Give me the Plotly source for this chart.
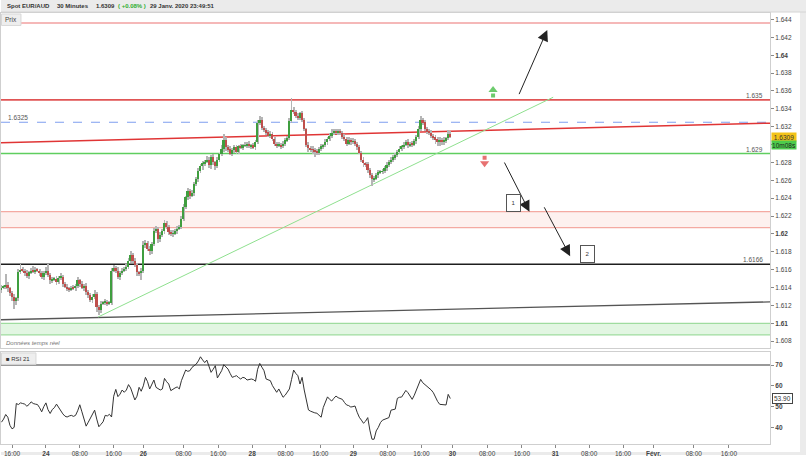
import plotly.graph_objects as go

# ---------------- data ----------------
# 30-minute EUR/AUD closes, first candle = 23 Jan 13:30, last = 29 Jan 23:30
closes = [
    1.6140, 1.6141, 1.6143, 1.6139, 1.6134, 1.6130, 1.6125, 1.6128, 1.6157, 1.6160,
    1.6159, 1.6156, 1.6153, 1.6157, 1.6159, 1.6158, 1.6160, 1.6159, 1.6156, 1.6152,
    1.6156, 1.6159, 1.6154, 1.6148, 1.6149, 1.6150, 1.6146, 1.6151, 1.6152, 1.6144,
    1.6141, 1.6139, 1.6138, 1.6140, 1.6139, 1.6142, 1.6148, 1.6144, 1.6140, 1.6142,
    1.6135, 1.6132, 1.6126, 1.6130, 1.6133, 1.6118, 1.6115, 1.6122, 1.6123, 1.6124,
    1.6122, 1.6123, 1.6159, 1.6162, 1.6159, 1.6152, 1.6156, 1.6159, 1.6161, 1.6163,
    1.6170, 1.6177, 1.6170, 1.6165, 1.6157, 1.6156, 1.6159, 1.6188, 1.6190, 1.6183,
    1.6181, 1.6189, 1.6203, 1.6206, 1.6194, 1.6199, 1.6203, 1.6212, 1.6208, 1.6202,
    1.6200, 1.6201, 1.6203, 1.6206, 1.6208, 1.6217, 1.6230, 1.6241, 1.6248, 1.6243,
    1.6246, 1.6256, 1.6261, 1.6270, 1.6276, 1.6279, 1.6281, 1.6283, 1.6277, 1.6286,
    1.6280, 1.6276, 1.6283, 1.6289, 1.6295, 1.6305, 1.6297, 1.6295, 1.6290, 1.6294,
    1.6297, 1.6292, 1.6298, 1.6297, 1.6299, 1.6299, 1.6301, 1.6298, 1.6299, 1.6297,
    1.6303, 1.6324, 1.6328, 1.6319, 1.6316, 1.6314, 1.6310, 1.6312, 1.6306, 1.6301,
    1.6299, 1.6300, 1.6298, 1.6301, 1.6305, 1.6307, 1.6326, 1.6339, 1.6337, 1.6332,
    1.6330, 1.6335, 1.6328, 1.6317, 1.6300, 1.6296, 1.6295, 1.6294, 1.6292, 1.6291,
    1.6295, 1.6298, 1.6299, 1.6303, 1.6306, 1.6310, 1.6313, 1.6315, 1.6314, 1.6315,
    1.6313, 1.6309, 1.6306, 1.6301, 1.6305, 1.6303, 1.6304, 1.6301, 1.6297, 1.6291,
    1.6283, 1.6279, 1.6278, 1.6272, 1.6266, 1.6261, 1.6262, 1.6266, 1.6269, 1.6270,
    1.6270, 1.6274, 1.6277, 1.6281, 1.6283, 1.6286, 1.6288, 1.6292, 1.6295, 1.6298,
    1.6300, 1.6303, 1.6299, 1.6301, 1.6300, 1.6304, 1.6308, 1.6317, 1.6327, 1.6325,
    1.6317, 1.6315, 1.6313, 1.6310, 1.6308, 1.6306, 1.6304, 1.6305, 1.6304, 1.6305,
    1.6307, 1.6312, 1.6309,
]
first_open = 1.6137
# wick lengths beyond the body, in pips (0.0001)
wick_up = [
    3, 2, 12, 3, 2, 2, 3, 2, 4, 6,   3, 2, 4, 2, 3, 5, 3, 2, 2, 3,
    2, 4, 7, 2, 3, 2, 3, 2, 4, 2,    2, 3, 2, 2, 3, 2, 4, 2, 3, 2,
    3, 2, 2, 3, 4, 2, 2, 3, 2, 3,    2, 2, 3, 3, 2, 4, 2, 3, 2, 3,
    3, 4, 2, 3, 2, 2, 3, 4, 3, 2,    3, 2, 4, 3, 2, 3, 2, 4, 3, 2,
    2, 3, 2, 3, 2, 3, 4, 2, 3, 2,    3, 2, 3, 4, 2, 3, 2, 4, 3, 2,
    3, 2, 3, 2, 4, 7, 3, 2, 3, 2,    2, 3, 2, 3, 2, 4, 2, 3, 2, 3,
    2, 3, 4, 3, 2, 3, 2, 3, 2, 3,    2, 3, 2, 3, 2, 3, 4, 13, 3, 2,
    3, 2, 3, 2, 2, 3, 2, 3, 2, 3,    2, 3, 2, 3, 2, 3, 4, 2, 3, 2,
    3, 2, 3, 2, 3, 2, 3, 2, 2, 3,    2, 3, 2, 3, 2, 2, 3, 2, 3, 2,
    3, 2, 3, 2, 3, 2, 3, 2, 3, 2,    3, 2, 3, 2, 3, 2, 3, 4, 5, 3,
    2, 3, 2, 3, 2, 3, 2, 3, 2, 3,    2, 4, 3,
]
wick_dn = [
    3, 2, 3, 4, 3, 5, 9, 4, 3, 2,    2, 3, 2, 3, 2, 2, 3, 2, 3, 2,
    3, 2, 2, 4, 3, 2, 3, 2, 2, 3,    2, 3, 3, 2, 2, 3, 2, 3, 2, 4,
    3, 4, 2, 3, 3, 5, 6, 3, 2, 3,    3, 2, 2, 2, 3, 2, 3, 2, 2, 3,
    2, 3, 3, 2, 4, 3, 7, 3, 4, 2,    5, 3, 3, 2, 4, 3, 2, 3, 2, 3,
    2, 3, 2, 3, 2, 2, 3, 2, 3, 4,    2, 3, 2, 3, 2, 4, 3, 2, 3, 4,
    3, 4, 2, 3, 2, 3, 4, 3, 2, 3,    3, 2, 3, 2, 3, 2, 3, 2, 3, 2,
    3, 2, 2, 3, 2, 3, 2, 3, 2, 3,    3, 2, 3, 2, 3, 2, 2, 2, 3, 2,
    3, 2, 3, 2, 3, 4, 3, 4, 6, 3,    3, 2, 3, 2, 3, 2, 3, 2, 2, 3,
    2, 3, 2, 3, 2, 3, 2, 3, 3, 2,    3, 4, 3, 4, 3, 7, 3, 2, 3, 2,
    3, 2, 3, 2, 3, 2, 3, 2, 3, 2,    3, 2, 3, 2, 3, 2, 3, 2, 2, 3,
    2, 3, 2, 3, 3, 5, 6, 6, 5, 4,    3, 2, 2,
]
rsi21 = [
    42.5, 44.0, 46.2, 44.9, 41.0, 39.3, 40.0, 51.5, 51.0, 51.8,
    51.5, 51.2, 50.2, 51.0, 52.3, 51.5, 51.2, 51.0, 49.5, 47.5,
    50.0, 51.8, 48.5, 46.7, 48.6, 49.5, 51.2, 49.5, 47.5, 46.5,
    45.4, 45.0, 45.5, 45.8, 45.3, 45.8, 48.0, 50.9, 47.5, 44.5,
    40.6, 42.5, 44.7, 46.5, 48.3, 44.0, 40.3, 41.5, 42.7, 45.8,
    45.5, 46.3, 45.0, 55.0, 58.3, 54.8, 56.0, 58.0, 56.9, 58.0,
    60.6, 59.0, 56.2, 53.2, 55.0, 59.3, 57.4, 60.0, 64.1, 62.0,
    58.5, 61.0, 62.8, 59.3, 58.5, 58.0, 58.5, 63.6, 62.0, 60.9,
    57.7, 58.5, 59.0, 59.5, 58.5, 62.5, 65.0, 67.6, 67.0, 67.3,
    68.9, 69.5, 70.5, 72.0, 74.0, 72.5, 71.2, 72.4, 69.0, 66.5,
    68.0, 69.7, 63.8, 65.5, 67.3, 70.2, 69.0, 68.1, 66.0, 64.1,
    64.5, 64.9, 64.0, 63.3, 64.1, 63.8, 62.8, 63.0, 63.3, 63.0,
    62.2, 68.0, 70.8, 69.0, 67.3, 63.3, 63.0, 62.5, 60.1, 58.5,
    56.9, 58.5, 56.5, 54.5, 55.5, 56.9, 58.5, 63.0, 67.6, 66.0,
    64.9, 60.9, 64.1, 58.0, 53.7, 48.4, 47.8, 47.3, 47.0, 46.8,
    46.0, 44.9, 49.6, 52.0, 54.7, 53.5, 52.7, 54.0, 55.1, 54.3,
    54.0, 53.5, 52.0, 50.8, 50.5, 49.8, 50.0, 50.3, 47.3, 44.9,
    43.5, 42.0, 43.0, 44.7, 38.7, 34.3, 34.3, 38.3, 40.0, 42.3,
    43.5, 43.9, 44.0, 44.7, 48.3, 48.5, 48.8, 54.0, 54.5, 54.6,
    56.0, 57.8, 56.7, 55.0, 53.5, 55.5, 57.8, 60.0, 63.1, 61.5,
    60.7, 60.0, 59.1, 58.0, 56.7, 54.3, 52.5, 51.1, 51.0, 51.1,
    50.8, 55.9, 53.9,
]
first_bar_hour = -10.5      # trading hours relative to 24 Jan 00:00
bar_step_hours = 0.5

# x tick labels (trading-hour position, text)
x_tick_hours = [-8, 0, 8, 16, 23, 32.5, 40.7, 48.7, 56.6, 64.8, 72.6, 80.7, 88.7,
                96, 104.2, 112.4, 120.3, 128.3, 136.3, 143.5, 153, 161.3]
x_tick_text = ["16:00", "<b>24</b>", "08:00", "16:00", "<b>26</b>", "08:00", "16:00",
               "<b>28</b>", "08:00", "16:00", "<b>29</b>", "08:00", "16:00", "<b>30</b>",
               "08:00", "16:00", "<b>31</b>", "08:00", "16:00", "<b>Févr.</b>", "08:00", "16:00"]
y_tick_vals = [1.608, 1.610, 1.612, 1.614, 1.616, 1.618, 1.620, 1.622, 1.624, 1.626,
               1.628, 1.630, 1.632, 1.634, 1.636, 1.638, 1.640, 1.642, 1.644]
# the 1.63 label is hidden behind the live price tags in the reference
y_tick_text = ["1.608", "<b>1.61</b>", "1.612", "1.614", "1.616", "1.618", "<b>1.62</b>",
               "1.622", "1.624", "1.626", "1.628", "", "1.632", "1.634", "1.636",
               "1.638", "<b>1.64</b>", "1.642", "1.644"]
rsi_tick_vals = [40, 50, 60, 70]

# drawn levels
level_top = 1.6436
level_res = 1.6350
level_dash = 1.6325
level_sup = 1.6290
level_black = 1.6166
red_zone = (1.6207, 1.6225)
green_zone = (1.6087, 1.6100)
red_trend = ((-10.61, 1.6302), (171.0, 1.6324))
gray_trend = ((-10.61, 1.6104), (171.0, 1.6124))
green_trend = ((12.3, 1.6107), (119.8, 1.6353))
# projection arrows: (tail hour, tail price, tip hour, tip price)
proj_arrows = [(111.6, 1.63548, 118.4, 1.64283),
               (108.1, 1.62816, 114.2, 1.62248),
               (117.5, 1.62315, 123.8, 1.61751)]
proj_boxes = [("1", 110.4, 1.62343), ("2", 127.9, 1.61780)]
last_price = 1.6309
timer_price = 1.6299
rsi_last = 53.90

# ---------------- geometry ----------------
W, H = 806, 457
ML, MR, MT, MB = 0, 36, 13, 11
PW, PH = W - ML - MR, H - MT - MB
X_RANGE = [-10.61, 171.0]


def pxx(x):
    return (x - ML) / PW


def pxy(y):
    return (H - MB - y) / PH


GREEN = "#3f9e3f"
RED = "#bf4f4c"
FONT = "Liberation Sans, Arial, sans-serif"

n = len(closes)
bar_x = [first_bar_hour + bar_step_hours * i for i in range(n)]
opens = [first_open] + closes[:-1]
highs = [max(o, c) + u * 1e-4 for o, c, u in zip(opens, closes, wick_up)]
lows = [min(o, c) - d * 1e-4 for o, c, d in zip(opens, closes, wick_dn)]
body_base = [min(o, c) for o, c in zip(opens, closes)]
body_h = [max(abs(c - o), 0.00004) for o, c in zip(opens, closes)]
body_col = [GREEN if c >= o else RED for o, c in zip(opens, closes)]

fig = go.Figure()
fig.add_trace(go.Bar(x=bar_x, y=[h - l for h, l in zip(highs, lows)], base=lows,
                     width=0.22, marker=dict(color="#b5b5b5", line=dict(width=0)),
                     xaxis="x", yaxis="y", showlegend=False, hoverinfo="skip"))
fig.add_trace(go.Bar(x=bar_x, y=body_h, base=body_base, width=0.4,
                     marker=dict(color=body_col, line=dict(width=0)),
                     xaxis="x", yaxis="y", showlegend=False, hoverinfo="skip"))
fig.add_trace(go.Scatter(x=bar_x, y=rsi21, mode="lines", line=dict(color="#333333", width=1),
                         xaxis="x2", yaxis="y2", showlegend=False, hoverinfo="skip"))
# small signal arrows (green up / red down)
fig.add_trace(go.Scatter(x=[105.6, 105.6], y=[1.63612, 1.63550], mode="markers",
                         marker=dict(symbol=["triangle-up", "square"], size=[8, 4], color="#2fb52f",
                                     line=dict(width=0)),
                         xaxis="x", yaxis="y", showlegend=False, hoverinfo="skip"))
fig.add_trace(go.Scatter(x=[103.6, 103.6], y=[1.62790, 1.62852], mode="markers",
                         marker=dict(symbol=["triangle-down", "square"], size=[8, 4], color="#dd3535",
                                     line=dict(width=0)),
                         xaxis="x", yaxis="y", showlegend=False, hoverinfo="skip"))

shapes = []
# outer frame / header
shapes.append(dict(type="rect", xref="paper", yref="paper", x0=pxx(0), x1=pxx(W), y0=pxy(0), y1=pxy(12),
                   fillcolor="#ebebeb", line=dict(width=0), layer="below"))
shapes.append(dict(type="line", xref="paper", yref="paper", x0=pxx(0), x1=pxx(W), y0=pxy(12), y1=pxy(12),
                   line=dict(color="#d4d4d4", width=1)))
shapes.append(dict(type="rect", xref="paper", yref="paper", x0=pxx(800), x1=pxx(W), y0=pxy(12), y1=pxy(H),
                   fillcolor="#ebebeb", line=dict(width=0), layer="below"))
shapes.append(dict(type="rect", xref="paper", yref="paper", x0=pxx(0), x1=pxx(W), y0=pxy(454), y1=pxy(H),
                   fillcolor="#ebebeb", line=dict(width=0), layer="below"))

# zones
for (lo, hi), fill, edge in [(red_zone, "rgba(250,215,210,0.35)", "#f4aaa2"),
                             (green_zone, "rgba(190,235,190,0.45)", "#9fdc9f")]:
    shapes.append(dict(type="rect", xref="x domain", yref="y", x0=0, x1=1, y0=lo, y1=hi,
                       fillcolor=fill, line=dict(width=0), layer="below"))
    for v in (lo, hi):
        shapes.append(dict(type="line", xref="x domain", yref="y", x0=0, x1=1, y0=v, y1=v,
                           line=dict(color=edge, width=1.2), layer="below"))

# horizontal levels
for v, col, w, dash in [(level_top, "#f2a0a0", 1.5, "solid"), (level_res, "#e05555", 1.6, "solid"),
                        (level_dash, "#7f9ff0", 1.2, "dash"), (level_sup, "#5fce5f", 1.4, "solid"),
                        (level_black, "#1e1e1e", 1.5, "solid")]:
    shapes.append(dict(type="line", xref="x domain", yref="y", x0=0, x1=1, y0=v, y1=v,
                       line=dict(color=col, width=w, dash=dash), layer="below"))

# trend lines
for (a, b), col, w in [(red_trend, "#e03535", 1.5), (gray_trend, "#555555", 1.3),
                       (green_trend, "#8fe08f", 1.0)]:
    shapes.append(dict(type="line", xref="x", yref="y", x0=a[0], y0=a[1], x1=b[0], y1=b[1],
                       line=dict(color=col, width=w), layer="below"))

# RSI 70 line
shapes.append(dict(type="line", xref="x2 domain", yref="y2", x0=0, x1=1, y0=70, y1=70,
                   line=dict(color="#777777", width=1.5), layer="below"))
# Prix / RSI tags
shapes.append(dict(type="rect", xref="paper", yref="paper", x0=pxx(0.5), x1=pxx(20), y0=pxy(14), y1=pxy(25.5),
                   fillcolor="#eeeeee", line=dict(color="#d8d8d8", width=1)))
shapes.append(dict(type="rect", xref="paper", yref="paper", x0=pxx(0.5), x1=pxx(35), y0=pxy(354.5), y1=pxy(366),
                   fillcolor="#eeeeee", line=dict(color="#d8d8d8", width=1)))

ann = []
small = dict(family=FONT, size=6.5, color="#555555")
# header
hdr_y = pxy(6)
for x, txt, col in [(4, "Spot EUR/AUD", "#333333"), (54, "30 Minutes", "#333333"),
                    (93, "1.6309", "#333333"), (115, "( +0.08% )", "#2fae2f"),
                    (147, "29 Janv. 2020 23:49:51", "#333333")]:
    ann.append(dict(xref="paper", yref="paper", x=pxx(x), y=hdr_y, text=f"<b>{txt}</b>",
                    showarrow=False, xanchor="left", yanchor="middle",
                    font=dict(family=FONT, size=6, color=col)))
ann.append(dict(xref="paper", yref="paper", x=pxx(10), y=pxy(20), text="Prix", showarrow=False,
                xanchor="center", yanchor="middle",
                font=dict(family=FONT, size=6.5, color="#444444")))
ann.append(dict(xref="paper", yref="paper", x=pxx(3), y=pxy(360.5), text="■ RSI 21", showarrow=False,
                xanchor="left", yanchor="middle", font=dict(family=FONT, size=6, color="#333333")))
ann.append(dict(xref="paper", yref="paper", x=pxx(3), y=pxy(345), text="<i>Données temps réel</i>",
                showarrow=False, xanchor="left", yanchor="middle",
                font=dict(family=FONT, size=6, color="#777777")))
# level labels
for v, txt, xpos, anchor in [(level_res, "1.635", 765, "right"), (level_sup, "1.629", 765, "right"),
                             (level_black, "1.6166", 765, "right"), (level_dash, "1.6325", 5, "left")]:
    ann.append(dict(xref="x domain", yref="y", x=pxx(xpos), y=v, text=txt, showarrow=False,
                    xanchor=anchor, yanchor="bottom", yshift=-1, font=small))
# projection arrows
for t0, p0, t1, p1 in proj_arrows:
    ann.append(dict(xref="x", yref="y", axref="x", ayref="y", x=t1, y=p1, ax=t0, ay=p0, text="",
                    showarrow=True, arrowhead=2, arrowsize=2.2, arrowwidth=1, arrowcolor="#222222",
                    standoff=0, startstandoff=0))
for txt, t, p in proj_boxes:
    ann.append(dict(xref="x", yref="y", x=t, y=p, text=txt, showarrow=False, bgcolor="white",
                    bordercolor="#555555", borderwidth=1, width=11, height=14,
                    font=dict(family=FONT, size=6, color="#333333")))
# right-side price tags
ann.append(dict(xref="paper", yref="y", x=pxx(771.5), y=last_price, text="1.6309", showarrow=False,
                xanchor="left", yanchor="middle", bgcolor="#f3c318", borderpad=0, width=24, height=8,
                font=dict(family=FONT, size=6.5, color="#333333")))
ann.append(dict(xref="paper", yref="y", x=pxx(771.5), y=timer_price, text="10m08s", showarrow=False,
                xanchor="left", yanchor="middle", bgcolor="#4ccb4c", borderpad=0, width=24, height=8,
                font=dict(family=FONT, size=6.5, color="#1e1e1e")))
ann.append(dict(xref="paper", yref="y2", x=pxx(772), y=rsi_last, text="53.90", showarrow=False,
                xanchor="left", bgcolor="white", bordercolor="#444444", borderwidth=1, borderpad=1,
                font=dict(family=FONT, size=6.5, color="#333333")))

axis_line = dict(showline=True, mirror=True, linecolor="#cfcfcf", linewidth=1,
                 showgrid=False, zeroline=False)
fig.update_layout(
    width=W, height=H, margin=dict(l=ML, r=MR, t=MT, b=MB),
    paper_bgcolor="white", plot_bgcolor="white", barmode="overlay", bargap=0,
    font=dict(family=FONT, size=7, color="#444444"),
    xaxis=dict(range=X_RANGE, anchor="y", showticklabels=False, ticks="", **axis_line),
    xaxis2=dict(range=X_RANGE, anchor="y2", matches="x", tickmode="array",
                tickvals=x_tick_hours, ticktext=x_tick_text, ticks="outside", ticklen=3,
                tickcolor="#888888", tickfont=dict(family=FONT, size=6.5, color="#444444"),
                **axis_line),
    yaxis=dict(domain=[pxy(350), 1], range=[1.607188, 1.644724], side="right", anchor="x",
               tickmode="array", tickvals=y_tick_vals, ticktext=y_tick_text, ticks="outside",
               ticklen=3, tickcolor="#888888",
               tickfont=dict(family=FONT, size=6.5, color="#444444"), **axis_line),
    yaxis2=dict(domain=[0, pxy(354)], range=[32.0, 76.1], side="right", anchor="x2",
                tickmode="array", tickvals=rsi_tick_vals,
                ticktext=[f"<b>{v}</b>" for v in rsi_tick_vals], ticks="outside", ticklen=3,
                tickcolor="#888888", tickfont=dict(family=FONT, size=6.5, color="#444444"),
                **axis_line),
    shapes=shapes, annotations=ann,
)

fig.write_html("out.html")
